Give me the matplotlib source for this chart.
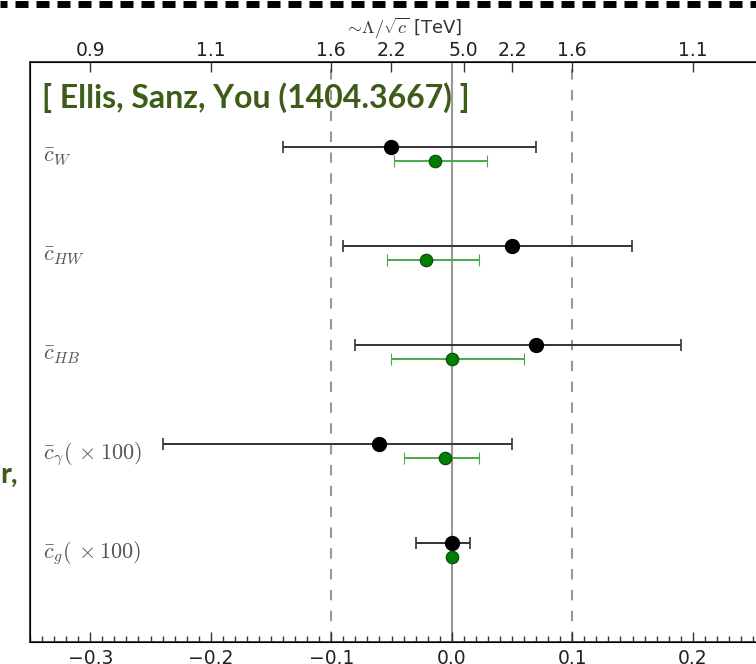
import numpy as np
import matplotlib
matplotlib.use('Agg')
import matplotlib.pyplot as plt
from matplotlib.lines import Line2D

plt.rcParams['mathtext.fontset'] = 'cm'

# ---- data ----
labels = [r'$\bar{c}_W$', r'$\bar{c}_{HW}$', r'$\bar{c}_{HB}$',
          r'$\bar{c}_{\gamma}(\,\times 100)$', r'$\bar{c}_g(\,\times 100)$']
rows = np.array([5, 4, 3, 2, 1])

# black: global fit
fit_c = np.array([-0.050, 0.050, 0.070, -0.060, 0.000])
fit_lo = np.array([-0.140, -0.090, -0.080, -0.240, -0.030])
fit_hi = np.array([0.070, 0.150, 0.190, 0.050, 0.015])

# green: second fit
alt_c = np.array([-0.014, -0.021, 0.000, -0.006, 0.000])
alt_lo = np.array([-0.048, -0.054, -0.050, -0.040, 0.000])
alt_hi = np.array([0.029, 0.023, 0.060, 0.023, 0.000])

top_ticks = [-0.3, -0.2, -0.1, -0.05, 0.01, 0.05, 0.1, 0.2, 0.3]
top_labels = ['0.9', '1.1', '1.6', '2.2', '5.0', '2.2', '1.6', '1.1', '0.9']

W, H = 756, 664
fig = plt.figure(figsize=(W / 100, H / 100), dpi=100)

# axes runs past the right edge (picture is a crop of a slide)
ax = fig.add_axes([30 / W, 22 / H, 843.5 / W, 580 / H])
ax.set_xlim(-0.35, 0.35)
ax.set_ylim(0, 5.86)

ax.axvline(0, color='#999999', lw=1.5, zorder=1)
for xv in (-0.1, 0.1):
    ax.axvline(xv, color='#999999', lw=1.5, ls=(0, (5, 5)), zorder=1)

ax.errorbar(fit_c, rows, xerr=[fit_c - fit_lo, fit_hi - fit_c], fmt='o',
            color='black', ecolor='#333333', elinewidth=1.4, capsize=4,
            capthick=1.2, ms=10, mec='black', zorder=3)
ax.errorbar(alt_c, rows - 0.14, xerr=[alt_c - alt_lo, alt_hi - alt_c], fmt='o',
            color='green', ecolor='#4aaa4a', elinewidth=1.4, capsize=4,
            capthick=1.2, ms=9, mec='#114411', mew=0.8, zorder=3)

for lab, y in zip(labels, rows):
    ax.text(-0.339, y - 0.1, lab, fontsize=16, color='#555555',
            va='center', ha='left')

ax.text(-0.340, 5.50, '[ Ellis, Sanz, You (1404.3667) ]', fontsize=23,
        fontweight='bold', family='Lato', color='#3d5c18', va='center')

ax.set_yticks([])
ax.set_xticks(np.arange(-0.3, 0.31, 0.1))
ax.set_xticks(np.arange(-0.35, 0.351, 0.01), minor=True)
ax.tick_params(axis='x', which='major', direction='in', length=7, width=1,
               labelsize=13.5, pad=5, colors='#333333', labelcolor='#222222')
ax.tick_params(axis='x', which='minor', direction='in', length=4, width=1,
               colors='#333333')
for s in ax.spines.values():
    s.set_color('#333333')
    s.set_linewidth(1.3)

top = ax.twiny()
top.set_xlim(ax.get_xlim())
top.set_xticks(top_ticks)
top.set_xticklabels(top_labels)
top.tick_params(axis='x', direction='in', length=7, width=1, labelsize=13.5,
                pad=1.7, colors='#333333', labelcolor='#222222')
top.set_xlabel(r'$\sim\!\Lambda/\sqrt{c}$ [TeV]', fontsize=13,
               color='#333333')
top.xaxis.set_label_coords(373 / 843.5, 1.0 + 21 / 580)
top.xaxis.label.set_va('bottom')

# slide leftovers: dashed border and cut-off text
px = 0.72 / 5  # pixels -> dash units for a 5 pt line
border = Line2D([0, 1], [1 - 3.5 / H, 1 - 3.5 / H], transform=fig.transFigure,
                color='black', lw=5, solid_capstyle='butt',
                dash_capstyle='butt', ls=(6 * px, (13 * px, 8 * px)))
fig.add_artist(border)
fig.text(0 / W, 1 - 475 / H, 'r,', fontsize=21, fontweight='bold',
         family='Lato', color='#3d5c18', va='center', ha='left')

fig.savefig('out.png', dpi=100)
